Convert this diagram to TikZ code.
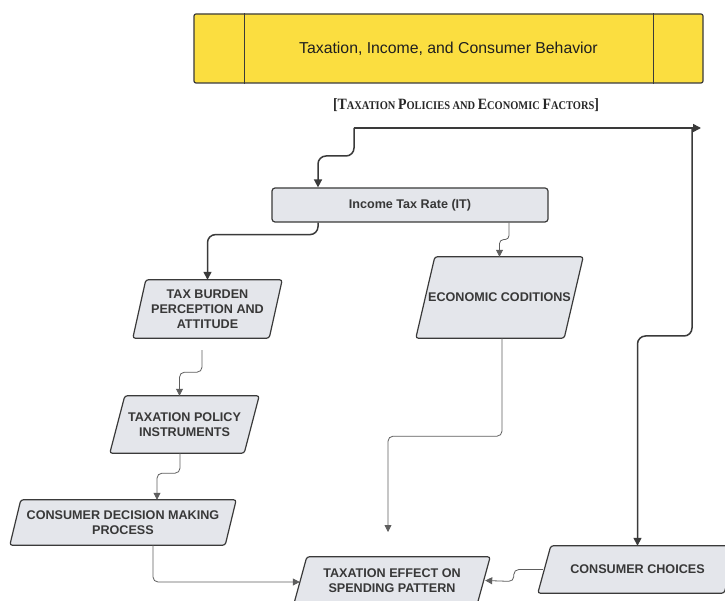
\documentclass[tikz,border=0pt]{standalone}
\usepackage{fontspec}
\setmainfont{Liberation Sans}
\newfontfamily\subfont{Liberation Serif}
\usetikzlibrary{arrows.meta,calc}
\pgfdeclarelayer{bg}
\pgfsetlayers{bg,main}
\definecolor{ylw}{HTML}{FBDE40}
\definecolor{boxfill}{HTML}{E4E6EB}
\definecolor{edge}{HTML}{3A3A3A}
\definecolor{txt}{HTML}{383838}
\definecolor{thingray}{HTML}{5E5E5E}
\newcommand\scL{\fontsize{12}{12}\selectfont}
\newcommand\scS{\fontsize{9}{9}\selectfont}
\newcommand\pbox[7]{%
  \node[btext, minimum width=#4pt, minimum height=#5pt] (#1) at (#2,#3) {#7};
  \begin{pgfonlayer}{bg}
  \draw[boxline] ([xshift=#6pt]#1.north west) -- (#1.north east) -- ([xshift=-#6pt]#1.south east) -- (#1.south west) -- cycle;
  \end{pgfonlayer}}
\tikzset{
  boxline/.style={draw=edge, fill=boxfill, line width=1.2pt, rounded corners=2.5pt},
  btext/.style={align=center, font=\bfseries\fontsize{12.6}{15}\selectfont, text=txt, inner sep=0pt},
  thickc/.style={draw=edge, line width=1.5pt, rounded corners=8pt, -{Triangle[length=8pt,width=8pt]}},
  thinc/.style={draw=thingray, line width=0.8pt, rounded corners=5pt, -{Triangle[length=7pt,width=7pt]}},
}
\begin{document}
\begin{tikzpicture}[x=1pt,y=-1pt]
\begin{pgfonlayer}{bg}
\fill[white] (0,0) rectangle (725,601);
\end{pgfonlayer}
\useasboundingbox (0,0) rectangle (725,601);

% title
\node[draw=edge, fill=ylw, line width=1.2pt, rounded corners=2pt, minimum width=509pt, minimum height=69pt, inner sep=0pt,
      font=\fontsize{15.8}{18}\selectfont, text=black!88] (title) at (448.5,48.5) {Taxation, Income, and Consumer Behavior};
\draw[edge, line width=1.2pt] ([xshift=51pt]title.north west) -- ([xshift=51pt]title.south west);
\draw[edge, line width=1.2pt] ([xshift=-50pt]title.north east) -- ([xshift=-50pt]title.south east);

% subtitle
\node[text=black!85, inner sep=0pt] (sub) at (466,105)
  {\resizebox*{266pt}{13pt}{\subfont\bfseries\scL[T\scS AXATION \scL P\scS OLICIES AND \scL E\scS CONOMIC \scL F\scS ACTORS\scL]}};

% income tax rate
\node[draw=edge, fill=boxfill, line width=1.2pt, rounded corners=3pt, minimum width=276pt, minimum height=34pt, btext] (it) at (410,205) {Income Tax Rate (IT)};

% parallelograms
\pbox{tb}{207.5}{309}{149}{58}{13}{TAX BURDEN\\PERCEPTION AND\\ATTITUDE}
\pbox{econ}{499.5}{297.5}{167}{81}{19}{ECONOMIC CODITIONS}
\pbox{tpi}{184.5}{424.5}{149}{57}{15}{TAXATION POLICY\\INSTRUMENTS}
\pbox{cdmp}{123}{522.5}{226}{45}{11}{CONSUMER DECISION MAKING\\PROCESS}
\pbox{te}{392}{580.5}{196}{47}{13}{TAXATION EFFECT ON\\SPENDING PATTERN}
\pbox{cc}{637.5}{569.5}{199}{47}{13}{CONSUMER CHOICES}

% free ends
\coordinate (start) at (354,128);
\coordinate (endR) at (701,128);
\coordinate (rt) at (692,128);
\coordinate (teIn) at (388,532);

% thick connectors
\draw[thickc] (start) -- (endR);
\draw[thickc] (start) -- ++(0,28) -| ([xshift=-92pt]it.north);
\draw[thickc] (rt) -- ++(0,208) -| (cc.north);
\draw[thickc] ([xshift=-92pt]it.south) -- ++(0,12) -| (tb.north);

% thin connectors
\draw[thinc, rounded corners=4pt] ([xshift=99pt]it.south) -- ++(0,17) -| (econ.north);
\draw[thinc] ([xshift=-5.5pt,yshift=-12pt]tb.south) -- ++(0,22) -| ([xshift=-5pt]tpi.north);
\draw[thinc] ([xshift=-4.5pt]tpi.south) -- ++(0,20) -| ([xshift=34pt]cdmp.north);
\draw[thinc] ([xshift=30pt]cdmp.south) |- ([xshift=6pt,yshift=-1.5pt]te.west);
\draw[thinc] ([xshift=2.5pt]econ.south) -- ++(0,98) -| (teIn);
\draw[thinc] ([xshift=5pt]cc.west) -- ++(-29,0) -- ++(0,12) -- ([xshift=-5pt]te.east);
\end{tikzpicture}
\end{document}
